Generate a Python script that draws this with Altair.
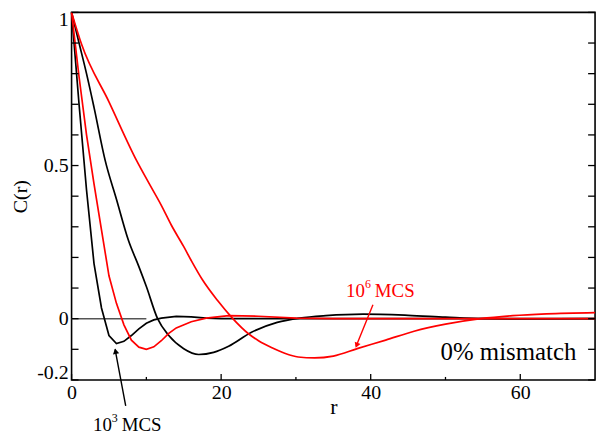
import altair as alt
import pandas as pd

# ---- data ----
black_fast_r = [0, 1, 2, 3, 4, 5, 6, 7, 8, 9, 10, 11, 12, 14, 16, 18, 20, 25, 30, 40, 50, 60, 70]
black_fast_c = [1.0, 0.70, 0.42, 0.18, 0.035, -0.055, -0.081, -0.074, -0.055, -0.033, -0.015, -0.004,
                0.002, 0.0075, 0.006, 0.002, 0.0, 0.0, 0.0, 0.0, 0.0, 0.0, 0.0]

black_slow_r = [0, 1, 2, 3, 4.5, 6, 7.6, 9, 10, 11.5, 13, 15, 17, 19, 21, 24, 27.5, 30.5, 34, 39, 45, 50, 55, 60, 70]
black_slow_c = [1.0, 0.9, 0.8, 0.69, 0.516, 0.39, 0.256, 0.17, 0.105, 0.0, -0.055, -0.098, -0.117, -0.11,
                -0.09, -0.045, -0.012, 0.002, 0.01, 0.015, 0.011, 0.005, 0.0, -0.001, 0.0]

red_fast_r = [0, 1, 2, 3, 4, 5, 6, 7, 8, 9, 10, 11, 12, 13, 14, 16, 18, 21, 25, 30, 35, 40, 50, 60, 70]
red_fast_c = [1.0, 0.79, 0.60, 0.44, 0.29, 0.14, 0.05, -0.02, -0.07, -0.093, -0.1, -0.092, -0.072, -0.048,
              -0.03, -0.01, 0.002, 0.01, 0.008, 0.002, 0.0, 0.0, 0.0, 0.0, 0.0]

red_slow_r = [0, 1.35, 5, 8.7, 10.4, 12, 13.35, 15, 16, 17.5, 19.5, 21.5, 23.7, 25, 26.8, 28.5, 30.3,
              32.5, 35, 38.3, 42, 45.8, 50, 54.7, 59, 63.5, 70]
red_slow_c = [1.0, 0.895, 0.708, 0.516, 0.44, 0.37, 0.305, 0.235, 0.19, 0.127, 0.06, 0.002, -0.05,
              -0.072, -0.095, -0.113, -0.125, -0.128, -0.122, -0.097, -0.07, -0.041, -0.018, 0.0, 0.01,
              0.016, 0.02]

x_label_vals = [0, 20, 40, 60]
x_minor_vals = [10, 30, 50]
y_label_vals = [-0.2, 0, 0.5, 1]
y_tick_vals = [-0.2, -0.1, 0.0, 0.1, 0.2, 0.3, 0.4, 0.5, 0.6, 0.7, 0.8, 0.9, 1.0]

W, H = 527, 370
FONT = "Liberation Serif"

def frame(pairs):
    rows = []
    for name, rs, cs in pairs:
        for r, c in zip(rs, cs):
            rows.append({"series": name, "r": r, "c": c})
    return pd.DataFrame(rows)

df_fast = frame([("a_black_fast", black_fast_r, black_fast_c), ("c_red_fast", red_fast_r, red_fast_c)])
df_slow = frame([("b_black_slow", black_slow_r, black_slow_c), ("d_red_slow", red_slow_r, red_slow_c)])

xs = alt.Scale(domain=[0, 70], nice=False, zero=False)
ys = alt.Scale(domain=[-0.2, 1], nice=False, zero=False)

x_axis = alt.Axis(values=x_label_vals, ticks=False, domain=False, grid=False,
                  labelFont=FONT, labelFontSize=20, labelColor="black", labelPadding=3,
                  labelFlush=False, title="r", titleFont=FONT, titleFontSize=22,
                  titleFontWeight="normal", titleColor="black", titleY=34,
                  titleBaseline="alphabetic")
y_axis = alt.Axis(values=y_label_vals, ticks=False, domain=False, grid=False,
                  labelFont=FONT, labelFontSize=20, labelColor="black", labelPadding=3.5,
                  labelFlush=True, labelFlushOffset=3,
                  labelExpr="datum.value < 0 ? '-' + format(-datum.value, '') : format(datum.value, '')",
                  title="C(r)", titleFont=FONT, titleFontSize=20, titleFontWeight="normal",
                  titleColor="black", titleX=-51, titleBaseline="middle")

X = alt.X("r:Q", scale=xs, axis=x_axis)
Y = alt.Y("c:Q", scale=ys, axis=y_axis)

zero_line = alt.Chart(pd.DataFrame({"r": [0, 10], "c": [0, 0]})).mark_line(
    color="#555555", strokeWidth=1.5).encode(x=X, y=Y)

black_slow_line = alt.Chart(df_slow[df_slow.series == "b_black_slow"]).mark_line(
    strokeWidth=1.7, interpolate="monotone", color="black").encode(x=X, y=Y, order=alt.Order("r:Q"))
black_fast_line = alt.Chart(df_fast[df_fast.series == "a_black_fast"]).mark_line(
    strokeWidth=1.7, color="black").encode(x=X, y=Y, order=alt.Order("r:Q"))
red_fast_line = alt.Chart(df_fast[df_fast.series == "c_red_fast"]).mark_line(
    strokeWidth=1.7, color="red").encode(x=X, y=Y, order=alt.Order("r:Q"))
red_slow_line = alt.Chart(df_slow[df_slow.series == "d_red_slow"]).mark_line(
    strokeWidth=1.7, interpolate="monotone", color="red").encode(x=X, y=Y, order=alt.Order("r:Q"))

ydf = pd.DataFrame({"c": y_tick_vals})
yticks_l = alt.Chart(ydf).mark_rule(color="black", strokeWidth=1.3).encode(
    y=Y, x=alt.value(0), x2=alt.value(7))
yticks_r = alt.Chart(ydf).mark_rule(color="black", strokeWidth=1.3).encode(
    y=Y, x=alt.value(W - 7), x2=alt.value(W))
xticks_major = alt.Chart(pd.DataFrame({"r": x_label_vals})).mark_rule(color="black", strokeWidth=1.3).encode(
    x=X, y=alt.value(H), y2=alt.value(H - 6))
xticks_minor = alt.Chart(pd.DataFrame({"r": x_minor_vals})).mark_rule(color="black", strokeWidth=1.3).encode(
    x=X, y=alt.value(H), y2=alt.value(H - 3))

def arrow(r0, c0, r1, c1, rh, ch, ang, col):
    shaft = alt.Chart(pd.DataFrame({"r": [r0, r1], "c": [c0, c1]})).mark_line(
        color=col, strokeWidth=1.4).encode(x=X, y=Y)
    head = alt.Chart(pd.DataFrame({"r": [rh], "c": [ch]})).mark_point(
        shape="triangle-up", filled=True, size=40, angle=ang, color=col, opacity=1).encode(x=X, y=Y)
    return [shaft, head]

arrow_black = arrow(7.24, -0.285, 5.82, -0.1, 5.88, -0.106, 349.3, "black")
arrow_red = arrow(40.3, 0.0455, 38.05, -0.09, 38.12, -0.087, 201.8, "red")

def mcs_label(r, c, exp, col):
    base = pd.DataFrame({"r": [r], "c": [c]})
    t1 = alt.Chart(base).mark_text(text="10", font=FONT, fontSize=19, color=col, align="left",
                                   baseline="alphabetic").encode(x=X, y=Y)
    t2 = alt.Chart(base).mark_text(text=exp, font=FONT, fontSize=12, color=col, align="left",
                                   baseline="alphabetic", dx=19, dy=-9).encode(x=X, y=Y)
    t3 = alt.Chart(base).mark_text(text="MCS", font=FONT, fontSize=19, color=col, align="left",
                                   baseline="alphabetic", dx=29).encode(x=X, y=Y)
    return [t1, t2, t3]

label_black = mcs_label(2.86, -0.366, "3", "black")
label_red = mcs_label(36.7, 0.0724, "6", "red")

mismatch = alt.Chart(pd.DataFrame({"r": [67.5], "c": [-0.136]})).mark_text(
    text="0% mismatch", font=FONT, fontSize=25, color="black", align="right",
    baseline="alphabetic").encode(x=X, y=Y)

layers = [zero_line, black_fast_line, black_slow_line, red_fast_line, red_slow_line,
          yticks_l, yticks_r, xticks_major, xticks_minor] + arrow_black + arrow_red + \
         label_black + label_red + [mismatch]

chart = alt.layer(*layers).properties(
    width=W, height=H,
    autosize=alt.AutoSizeParams(type="none"),
    padding={"left": 64, "top": 3, "right": 8, "bottom": 55},
).configure_view(
    stroke="black", strokeWidth=1.6
)

chart.save("out.html", embed_options={"renderer": "svg", "actions": False})
